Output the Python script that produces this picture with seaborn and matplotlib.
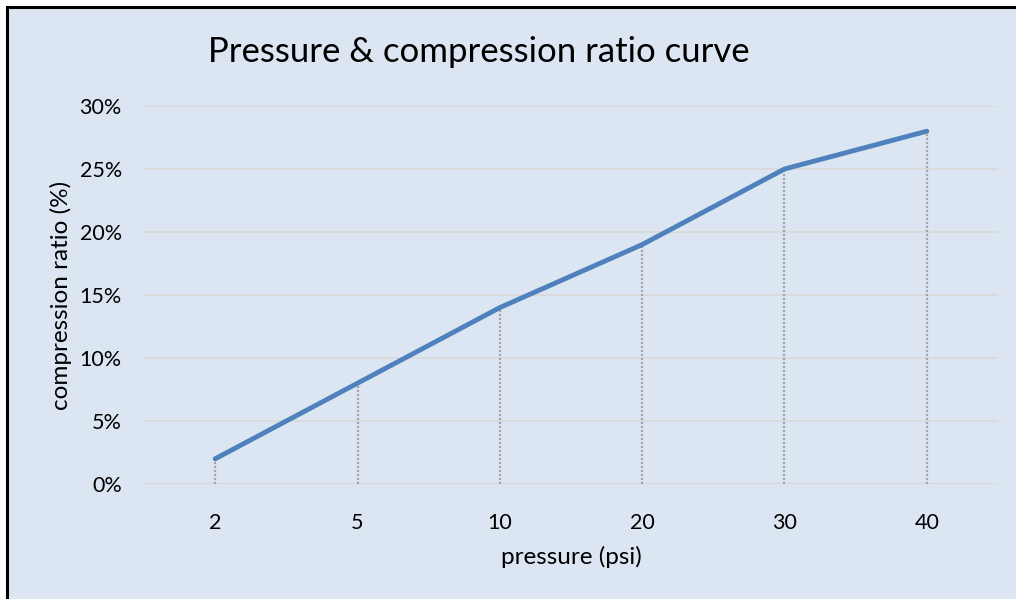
import matplotlib
matplotlib.use("Agg")
import matplotlib.pyplot as plt
import matplotlib.patches as mpatches
from matplotlib.ticker import PercentFormatter
import seaborn as sns
import pandas as pd

# ---- data ----
pressure_labels = ["2", "5", "10", "20", "30", "40"]
compression_ratio = [0.02, 0.08, 0.14, 0.19, 0.25, 0.28]
y_ticks = [0.00, 0.05, 0.10, 0.15, 0.20, 0.25, 0.30]

title_text = "Pressure & compression ratio curve"
x_label = "pressure (psi)"
y_label = "compression ratio (%)"

BG = "#DCE6F2"
LINE = "#4F81BD"
GRID = "#D9D9D9"
DROP = "#A6A6A6"

sns.set_theme(style="white")
plt.rcParams["font.family"] = ["Lato", "DejaVu Sans"]

W, H = 1016, 599
fig = plt.figure(figsize=(W / 100, H / 100), dpi=100)
fig.patch.set_facecolor("white")

# chart-area rectangle with black border (left/top visible)
rect = mpatches.Rectangle((6.5 / W, -0.05), 1.1, (H - 6.5) / H + 0.05,
                          transform=fig.transFigure, facecolor=BG,
                          edgecolor="black", linewidth=2.2, zorder=-10)
fig.patches.append(rect)

ax_left, ax_right, ax_top, ax_bottom = 144, 998, 106, 484
ax = fig.add_axes([ax_left / W, (H - ax_bottom) / H,
                   (ax_right - ax_left) / W, (ax_bottom - ax_top) / H])
ax.set_facecolor("none")

df = pd.DataFrame({"pressure": pressure_labels, "ratio": compression_ratio})

# gridlines
for v in y_ticks:
    ax.axhline(v, color=GRID, lw=1.3, zorder=0)

# drop lines
xpos = list(range(len(pressure_labels)))
ax.vlines(xpos, 0, compression_ratio, colors=DROP, linestyles=(0, (1, 0.8)),
          lw=1.6, zorder=1)

sns.lineplot(data=df, x="pressure", y="ratio", ax=ax, color=LINE, lw=3.5,
             sort=False, zorder=3, solid_capstyle="round",
             solid_joinstyle="round")

ax.set_xlim(-0.5, len(pressure_labels) - 0.5)
ax.set_ylim(0, 0.30)
ax.set_yticks(y_ticks)
ax.yaxis.set_major_formatter(PercentFormatter(1.0, decimals=0))
ax.set_xticks(xpos)
ax.set_xticklabels(pressure_labels)

for s in ax.spines.values():
    s.set_visible(False)
ax.tick_params(axis="both", length=0, labelsize=15.5, colors="black")
ax.tick_params(axis="x", pad=21)
ax.tick_params(axis="y", pad=16)

ax.set_xlabel(x_label, fontsize=17.5, color="black", va="center")
ax.set_ylabel(y_label, fontsize=17.5, color="black", va="center")
ax.xaxis.set_label_coords(0.5, (ax_bottom - 557) / (ax_bottom - ax_top))
ax.yaxis.set_label_coords((61 - ax_left) / (ax_right - ax_left), 0.5)

fig.text(208 / W, (H - 52) / H, title_text, fontsize=25, ha="left",
         va="center", color="black")

fig.savefig("out.png", dpi=100, facecolor=fig.get_facecolor())
